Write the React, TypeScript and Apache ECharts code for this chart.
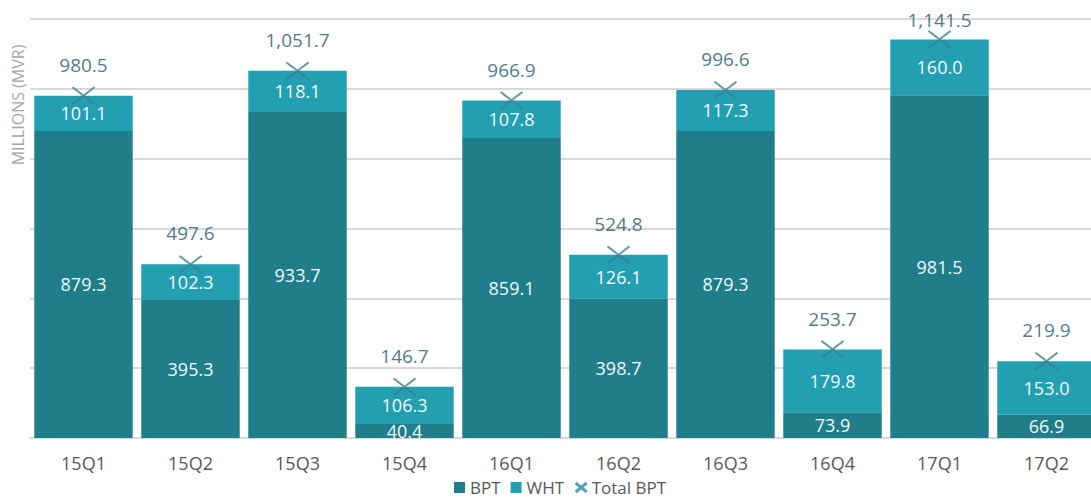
import React, { useEffect, useRef } from "react";
import * as echarts from "echarts";

const categories = ["15Q1", "15Q2", "15Q3", "15Q4", "16Q1", "16Q2", "16Q3", "16Q4", "17Q1", "17Q2"];
const bptValues = [879.3, 395.3, 933.7, 40.4, 859.1, 398.7, 879.3, 73.9, 981.5, 66.9];
const whtValues = [101.1, 102.3, 118.1, 106.3, 107.8, 126.1, 117.3, 179.8, 160.0, 153.0];
const totalValues = [980.5, 497.6, 1051.7, 146.7, 966.9, 524.8, 996.6, 253.7, 1141.5, 219.9];

const FONT = "'Open Sans', 'Noto Sans', sans-serif";
const CROSS = "path://M0,0L22,18M22,0L0,18";

const fmt = (v: number) =>
  v.toLocaleString("en-US", { minimumFractionDigits: 1, maximumFractionDigits: 1 });

export default function App() {
  const ref = useRef<HTMLDivElement>(null);
  useEffect(() => {
    if (!ref.current) return;
    const chart = echarts.init(ref.current, undefined, { renderer: "svg" });
    chart.setOption({
      animation: false,
      textStyle: { fontFamily: FONT },
      grid: { left: 30, top: 19, right: 0, bottom: 66, containLabel: false },
      legend: {
        bottom: 3,
        left: 449,
        itemWidth: 11,
        itemHeight: 11,
        itemGap: 10,
        textStyle: { color: "#595959", fontSize: 17, fontFamily: FONT },
        data: [
          { name: "BPT", icon: "rect" },
          { name: "WHT", icon: "rect" },
          { name: "Total BPT", icon: CROSS, itemStyle: { color: "transparent", borderColor: "#2b8aa0", borderWidth: 3 } },
        ],
      },
      xAxis: {
        type: "category",
        data: categories,
        axisLine: { lineStyle: { color: "#d9d9d9", width: 2 } },
        axisTick: { show: false },
        axisLabel: { color: "#595959", fontSize: 18, margin: 16, fontFamily: FONT },
      },
      yAxis: {
        type: "value",
        min: 0,
        max: 1200,
        interval: 200,
        axisLabel: { show: false },
        axisLine: { show: false },
        axisTick: { show: false },
        splitLine: { lineStyle: { color: "#d9d9d9", width: 2 } },
      },
      graphic: [
        {
          type: "text",
          x: 18,
          y: 105,
          rotation: Math.PI / 2,
          style: {
            text: "MILLIONS (MVR)",
            fill: "#a6a6a6",
            fontSize: 16,
            fontFamily: FONT,
            align: "center",
            verticalAlign: "middle",
          },
        },
      ],
      series: [
        {
          name: "BPT",
          type: "bar",
          stack: "t",
          data: bptValues,
          barCategoryGap: "8%",
          itemStyle: { color: "#1f7e89" },
          label: {
            show: true,
            position: "inside",
            color: "#f2f8f9",
            fontSize: 18,
            fontFamily: FONT,
            formatter: (p: any) => fmt(p.value),
          },
        },
        {
          name: "WHT",
          type: "bar",
          stack: "t",
          data: whtValues,
          barCategoryGap: "8%",
          itemStyle: { color: "#229fb0" },
          label: {
            show: true,
            position: "inside",
            color: "#f2f8f9",
            fontSize: 18,
            fontFamily: FONT,
            formatter: (p: any) => fmt(p.value),
          },
        },
        {
          name: "Total BPT",
          type: "scatter",
          data: totalValues.map((v) => ({ value: v, label: { distance: v > 1100 ? 1 : 12 } })),
          symbol: CROSS,
          symbolSize: [22, 17],
          itemStyle: { color: "transparent", borderColor: "#3a7f8e", borderWidth: 2 },
          z: 5,
          label: {
            show: true,
            position: "top",
            distance: 12,
            color: "#1c5766",
            fontSize: 19,
            fontFamily: FONT,
            formatter: (p: any) => fmt(p.value),
          },
        },
      ],
    });
    return () => chart.dispose();
  }, []);
  return (
    <div
      style={{ position: "fixed", left: 0, top: 0, width: 1091, height: 504, overflow: "hidden", background: "#ffffff" }}
    >
      <div ref={ref} style={{ width: 1100, height: 504 }} />
    </div>
  );
}
